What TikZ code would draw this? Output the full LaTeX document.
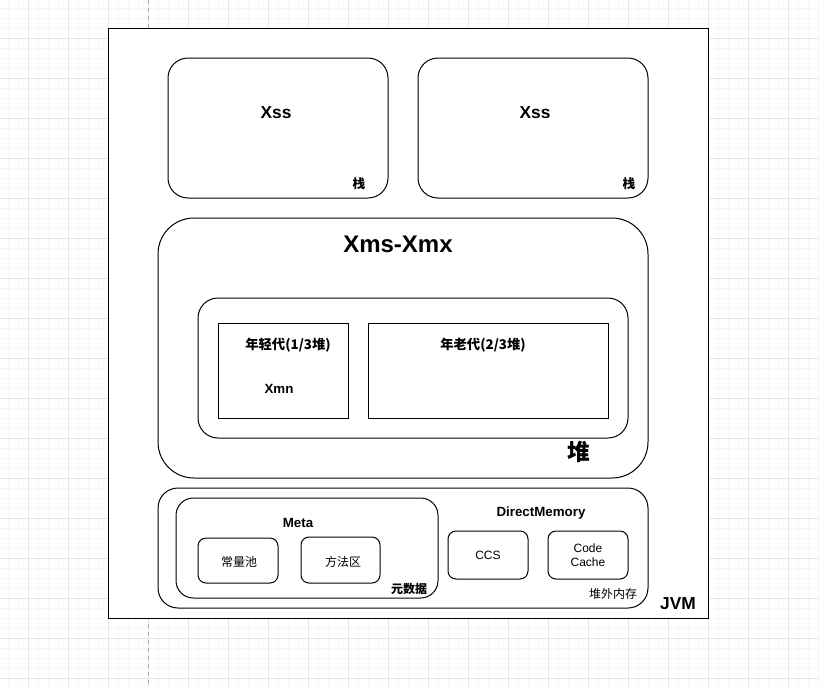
\documentclass[tikz,border=0pt]{standalone}
\usepackage{fontspec}
\setmainfont{Liberation Sans}
\newfontfamily\cjk{Noto Sans CJK SC}
\usepackage{tikz}
\usetikzlibrary{positioning}

\definecolor{gridminor}{HTML}{F7F7F7}
\definecolor{gridmajor}{HTML}{E6E6E6}

\begin{document}
\begin{tikzpicture}[x=0.75pt, y=-0.75pt, every node/.style={draw=none, inner sep=0pt},
    minorline/.style={draw=gridminor, line width=0.75pt},
    majorline/.style={draw=gridmajor, line width=0.75pt},
    box/.style={draw=black, line width=0.75pt, fill=white},
    en/.style={font=\fontsize{9}{11}\selectfont},
    zh/.style={font=\cjk\fontsize{9}{11}\selectfont}]
        \useasboundingbox (0,0) rectangle (819,687);

        % 背景网格
        \foreach \x in {8,18,...,818} \draw[minorline] (\x,0) -- (\x,687);
        \foreach \y in {8,18,...,678} \draw[minorline] (0,\y) -- (819,\y);
        \foreach \x in {28,68,...,788} \draw[majorline] (\x,0) -- (\x,687);
        \foreach \y in {38,78,...,678} \draw[majorline] (0,\y) -- (819,\y);
        \draw[dashed, draw=gray!70, line width=0.75pt] (148,0) -- (148,687);

        % JVM
        \draw[box] (108,28) rectangle (708,618);
        \node[en, font=\bfseries\fontsize{13}{15}\selectfont] (jvm) at (678,604) {JVM};

        % 栈
        \draw[box, rounded corners=15pt] (168,58) rectangle (388,198);
        \draw[box, rounded corners=15pt] (418,58) rectangle (648,198);
        \node[en, font=\bfseries\fontsize{13}{15}\selectfont] (xss1) at (276,113) {Xss};
        \node[en, font=\bfseries\fontsize{13}{15}\selectfont] (xss2) at (535,113) {Xss};
        \node[zh, font=\cjk\bfseries\fontsize{9.5}{11}\selectfont] (stack1) at (359,184) {栈};
        \node[zh, font=\cjk\bfseries\fontsize{9.5}{11}\selectfont] (stack2) at (629,184) {栈};

        % 堆
        \draw[box, rounded corners=27pt] (158,218) rectangle (648,478);
        \node[en, font=\bfseries\fontsize{18}{20}\selectfont] (heapsize) at (398,244) {Xms-Xmx};
        \draw[box, rounded corners=15pt] (198,298) rectangle (628,438);
        \draw[box] (218,323) rectangle (348,418);
        \draw[box] (368,323) rectangle (608,418);
        \node[zh, font=\cjk\bfseries\fontsize{10}{12}\selectfont] (young) at (288,345) {年轻代(1/3堆)};
        \node[en, font=\bfseries\fontsize{10}{12}\selectfont] (xmn) at (279,389) {Xmn};
        \node[zh, font=\cjk\bfseries\fontsize{10}{12}\selectfont] (old) at (483,345) {年老代(2/3堆)};
        \node[zh, font=\cjk\bfseries\fontsize{17}{19}\selectfont] (heap) at (579,452) {堆};

        % 堆外
        \draw[box, rounded corners=15pt] (158,488) rectangle (648,608);
        \draw[box, rounded corners=13pt] (176,498) rectangle (438,598);
        \node[en, font=\bfseries\fontsize{10}{12}\selectfont] (meta) at (298,523) {Meta};
        \draw[box, rounded corners=6pt] (198,538) rectangle (278,583);
        \draw[box, rounded corners=6pt] (301,537) rectangle (380,583);
        \node[zh] (pool) at (239,562) {常量池};
        \node[zh] (method) at (343,562) {方法区};
        \node[zh, font=\cjk\bfseries\fontsize{9}{11}\selectfont] (metadata) at (409,589) {元数据};

        \node[en, font=\bfseries\fontsize{10}{12}\selectfont] (direct) at (541,513) {DirectMemory};
        \draw[box, rounded corners=6pt] (448,531) rectangle (528,579);
        \draw[box, rounded corners=6pt] (548,531) rectangle (628,579);
        \node[en] (ccs) at (488,555) {CCS};
        \node[en, align=center, font=\fontsize{9}{10.5}\selectfont] (codecache) at (588,555) {Code\\Cache};
        \node[zh] (offheap) at (613,594) {堆外内存};
    \end{tikzpicture}
\end{document}
